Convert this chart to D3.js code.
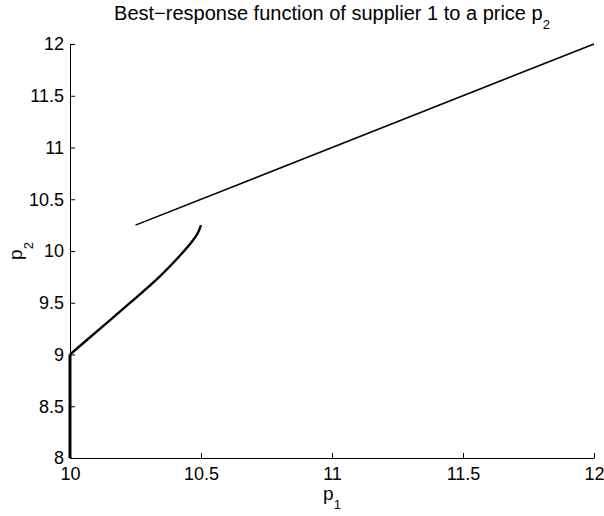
<!DOCTYPE html>
<html>
<head>
<meta charset="utf-8">
<script src="https://cdn.jsdelivr.net/npm/d3@7"></script>
<style>
  body { margin: 0; background: #fff; }
  text { font-family: "Liberation Sans", Arial, sans-serif; fill: #000; }
</style>
</head>
<body>
<div id="chart"></div>
<script>
// tick values
var xTicks = [10, 10.5, 11, 11.5, 12]
var yTicks = [8, 8.5, 9, 9.5, 10, 10.5, 11, 11.5, 12]

// upper branch: p1 = p2
var upperP1 = [10.25, 12]
var upperP2 = [10.25, 12]

// lower branch (curved part)
var lowerP1 = [10, 10.114, 10.229, 10.344, 10.42, 10.466, 10.488, 10.5]
var lowerP2 = [9, 9.248, 9.498, 9.758, 9.957, 10.092, 10.174, 10.25]

// vertical piece at p1 = 10
var vertP1 = [10, 10]
var vertP2 = [8, 9]

var margin = {top: 44, right: 10, bottom: 58, left: 70},
    width = 594 - margin.left,
    height = 458 - margin.top;

var svg = d3.select("#chart")
    .append("svg")
    .attr("width", 604)
    .attr("height", 516)
    .append("g")
    .attr("transform", "translate(" + margin.left + "," + margin.top + ")");

var x = d3.scaleLinear().domain([10, 12]).range([0, width]);
var y = d3.scaleLinear().domain([8, 12]).range([height, 0]);

// axes, MATLAB style: ticks pointing inwards
var xAxis = svg.append("g")
    .attr("transform", "translate(0," + height + ")")
    .call(d3.axisBottom(x).tickValues(xTicks).tickSizeInner(-5).tickSizeOuter(0).tickPadding(9).tickFormat(d3.format("")));

var yAxis = svg.append("g")
    .call(d3.axisLeft(y).tickValues(yTicks).tickSizeInner(-5).tickSizeOuter(0).tickPadding(6).tickFormat(d3.format("")));

[xAxis, yAxis].forEach(function(a) {
    a.selectAll("text").style("font-size", "18px").style("font-family", "Liberation Sans, Arial, sans-serif");
    a.selectAll("line").attr("stroke", "#000");
    a.select(".domain").attr("stroke", "#000");
});

function zip(xs, ys) { return xs.map(function(v, i) { return [v, ys[i]]; }); }

var line = d3.line()
    .x(function(d) { return x(d[0]); })
    .y(function(d) { return y(d[1]); });

svg.append("path")
    .datum(zip(upperP1, upperP2))
    .attr("fill", "none")
    .attr("stroke", "#000")
    .attr("stroke-width", 1.6)
    .attr("d", line);

svg.append("path")
    .datum(zip(vertP1, vertP2))
    .attr("fill", "none")
    .attr("stroke", "#000")
    .attr("stroke-width", 3)
    .attr("d", line);

svg.append("path")
    .datum(zip(lowerP1, lowerP2))
    .attr("fill", "none")
    .attr("stroke", "#000")
    .attr("stroke-width", 2.4)
    .attr("d", d3.line().x(function(d) { return x(d[0]); }).y(function(d) { return y(d[1]); }).curve(d3.curveCatmullRom));

// title
var title = svg.append("text")
    .attr("x", width / 2)
    .attr("y", -24)
    .attr("text-anchor", "middle")
    .style("font-size", "20px");
title.append("tspan").text("Best\u2212response function of supplier 1 to a price p");
title.append("tspan").attr("dy", 9).style("font-size", "13px").text("2");

// x label
var xl = svg.append("text")
    .attr("x", width / 2)
    .attr("y", height + 42)
    .attr("text-anchor", "middle")
    .style("font-size", "19px");
xl.append("tspan").text("p");
xl.append("tspan").attr("dy", 9).style("font-size", "13px").text("1");

// y label
var yl = svg.append("text")
    .attr("transform", "translate(-48," + (height / 2) + ") rotate(-90)")
    .attr("text-anchor", "middle")
    .style("font-size", "19px");
yl.append("tspan").text("p");
yl.append("tspan").attr("dy", 11).style("font-size", "13px").text("2");
</script>
</body>
</html>
